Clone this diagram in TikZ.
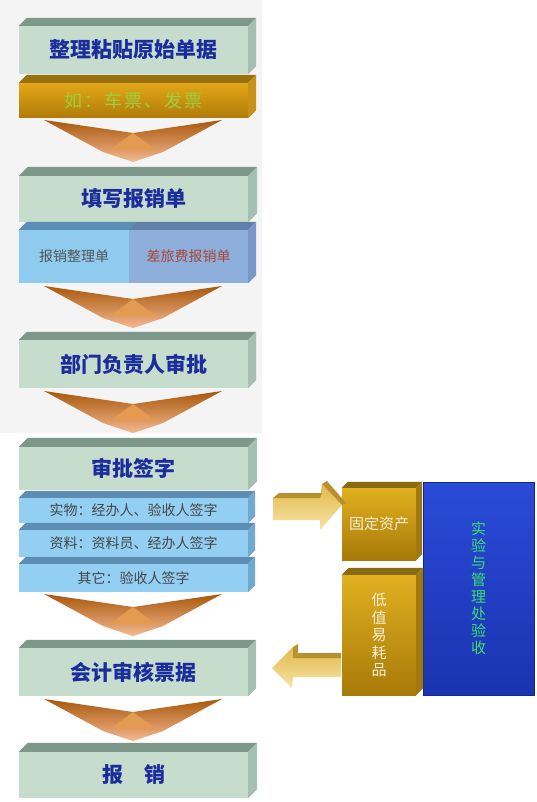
\documentclass[tikz,border=0pt]{standalone}
\usepackage{fontspec}
\newfontfamily\cjk{Noto Sans CJK SC}
\newfontfamily\cjkwide{Noto Sans CJK SC}[LetterSpace=12]
\definecolor{bggray}{HTML}{F4F4F4}
\definecolor{gfront}{HTML}{C6DCCD}
\definecolor{gtop}{HTML}{7D978A}
\definecolor{gside}{HTML}{A5BFB0}
\definecolor{titleblue}{HTML}{1B2C9C}
\definecolor{olight}{HTML}{E2A818}
\definecolor{odark}{HTML}{B07A08}
\definecolor{otop}{HTML}{9A7010}
\definecolor{oside}{HTML}{C89018}
\definecolor{otext}{HTML}{9AD040}
\definecolor{s1front}{HTML}{8FCBEF}
\definecolor{s1top}{HTML}{5B8FB5}
\definecolor{s2front}{HTML}{8EAEDC}
\definecolor{s2top}{HTML}{6080A8}
\definecolor{s2side}{HTML}{7898C8}
\definecolor{s1text}{HTML}{555555}
\definecolor{s2text}{HTML}{A84838}
\definecolor{rfront}{HTML}{93CFF3}
\definecolor{rtop}{HTML}{5D8DB3}
\definecolor{rside}{HTML}{70A8D0}
\definecolor{rtext}{HTML}{454545}
\definecolor{chevtop}{HTML}{A8580C}
\definecolor{chevmid}{HTML}{F09020}
\definecolor{chevbot}{HTML}{F5B890}
\definecolor{chevface}{HTML}{E49A50}
\definecolor{aulight}{HTML}{E0B020}
\definecolor{audark}{HTML}{A87A08}
\definecolor{autop}{HTML}{8A6A10}
\definecolor{auside}{HTML}{A07A10}
\definecolor{autext}{HTML}{F6EFD8}
\definecolor{arrtop}{HTML}{E2B848}
\definecolor{arrbot}{HTML}{F8E4A8}
\definecolor{arrface}{HTML}{B89030}
\definecolor{bltop}{HTML}{2A4AD8}
\definecolor{blbot}{HTML}{1A34B0}
\definecolor{bledge}{HTML}{14288A}
\definecolor{vgreen}{HTML}{3CE070}
\begin{document}
\begin{tikzpicture}[x=1pt,y=-1pt,
	green_box/.style={fill=gfront,inner sep=0pt,minimum width=229pt,text=titleblue,font=\cjk\bfseries\fontsize{21}{24}\selectfont},
	orange_box/.style={top color=olight,bottom color=odark,inner sep=0pt,minimum width=229pt,text=otext,font=\cjkwide\fontsize{18}{20}\selectfont},
	sub_box/.style={inner sep=0pt,font=\cjk\fontsize{14}{16}\selectfont},
	row_box/.style={fill=rfront,inner sep=0pt,minimum width=229pt,text=rtext,font=\cjk\fontsize{14}{16}\selectfont},
	gold_box/.style={top color=aulight,bottom color=audark,inner sep=0pt,minimum width=74pt,text=autext,align=center,font=\cjk\fontsize{15}{17.5}\selectfont}]
	
	\useasboundingbox (0,0) rectangle (536,802);
	\fill[white] (0,0) rectangle (536,802);
	\fill[bggray] (0,0) rectangle (262,433);
	
	\node[green_box,minimum height=48pt] (g1) at (133.5,50) {整理粘贴原始单据};
	\node[orange_box,minimum height=35pt] (o1) at (133.5,100.5) {如：车票、发票};
	\node[green_box,minimum height=46pt] (g2) at (133.5,199) {填写报销单};
	\node[sub_box,fill=s1front,text=s1text,minimum width=110pt,minimum height=53pt] (s1) at (74,256.5) {报销整理单};
	\node[sub_box,fill=s2front,text=s2text,minimum width=119pt,minimum height=53pt] (s2) at (188.5,256.5) {差旅费报销单};
	\node[green_box,minimum height=48pt] (g3) at (133.5,364) {部门负责人审批};
	\node[green_box,minimum height=43pt] (g4) at (133.5,468.5) {审批签字};
	\node[row_box,minimum height=25pt] (r1) at (133.5,510.5) {实物：经办人、验收人签字};
	\node[row_box,minimum height=27pt] (r2) at (133.5,543.5) {资料：资料员、经办人签字};
	\node[row_box,minimum height=28pt] (r3) at (133.5,578) {其它：验收人签字};
	\node[green_box,minimum height=48pt] (g5) at (133.5,672) {会计审核票据};
	\node[green_box,minimum height=46pt] (g6) at (133.5,775) {报\quad 销};
	
	\node[top color=bltop,bottom color=blbot,draw=bledge,line width=1pt,inner sep=0pt,minimum width=111pt,minimum height=213pt,text=vgreen,align=center,font=\cjk\fontsize{15}{17}\selectfont] (bl) at (478.5,588.5) {实\\验\\与\\管\\理\\处\\验\\收};
	\node[gold_box,minimum height=72pt] (fa) at (379,524) {固定资产};
	\node[gold_box,minimum height=120pt] (lv) at (379,635) {低\\值\\易\\耗\\品};
	
	% top faces
	\foreach \n/\d/\c in {g1/8/gtop,o1/8/otop,g2/9/gtop,s1/8/s1top,s2/8/s2top,g3/8/gtop,g4/9/gtop,r1/7/rtop,r2/7/rtop,r3/7/rtop,g5/8/gtop,g6/9/gtop,fa/6/autop,lv/7/autop}
		\fill[\c] (\n.north west) -- ([shift={(\d,-\d)}]\n.north west) -- ([shift={(\d,-\d)}]\n.north east) -- (\n.north east) -- cycle;
	% side faces
	\foreach \n/\d/\c in {g1/8/gside,o1/8/oside,g2/9/gside,s2/8/s2side,g3/8/gside,g4/9/gside,r1/7/rside,r2/7/rside,r3/7/rside,g5/8/gside,g6/9/gside,fa/6/auside,lv/7/auside}
		\fill[\c] (\n.north east) -- ([shift={(\d,-\d)}]\n.north east) -- ([shift={(\d,-\d)}]\n.south east) -- (\n.south east) -- cycle;
	
	% chevrons
	\foreach \t in {120,286,391,594,699}{
		\shade[top color=chevtop,middle color=chevmid,bottom color=chevbot] (44,\t) -- (103,\t+32) -- (133,\t+42) -- (163,\t+32) -- (222,\t) -- (133,\t+13) -- cycle;
		\fill[chevface] (133,\t+13) -- (110,\t+30) -- (156,\t+30) -- cycle;
	}
	
	% block arrows
	\shade[top color=arrtop,bottom color=arrbot] (273,498) -- (320,498) -- (322,484) -- (342,505) -- (320,530) -- (320,520) -- (273,520) -- cycle;
	\fill[arrface] (273,498) -- (279,493) -- (322,493) -- (320,498) -- cycle;
	\fill[arrface] (322,484) -- (327,481) -- (346,503) -- (342,505) -- cycle;
	\shade[top color=arrtop,bottom color=arrbot] (341,658) -- (293,658) -- (293,647) -- (272,668) -- (292,688) -- (293,677) -- (341,677) -- cycle;
	\fill[arrface] (293,658) -- (298,653) -- (341,653) -- (341,658) -- cycle;
	\fill[arrface] (293,647) -- (298,644) -- (298,653) -- (293,658) -- cycle;
\end{tikzpicture}
\end{document}
